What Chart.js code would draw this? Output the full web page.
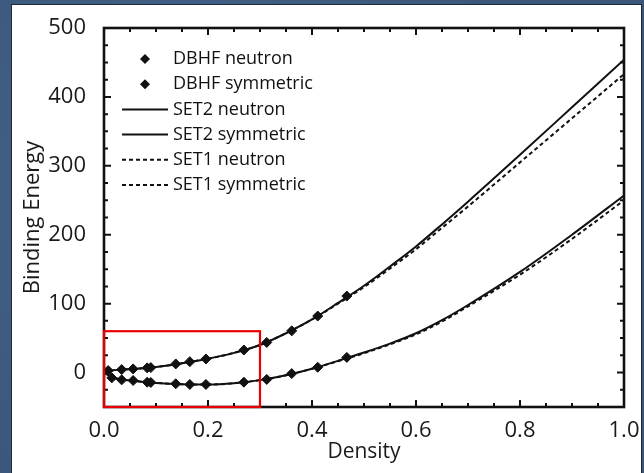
<!DOCTYPE html>
<html lang="en">
<head>
    <meta charset="UTF-8">
    <title>Binding Energy vs Density</title>
    <style>
        * { margin: 0; padding: 0; box-sizing: border-box; }
        body {
            width: 644px;
            height: 473px;
            overflow: hidden;
            background-color: #3d5b81;
            background-image: radial-gradient(circle at 30% 40%, #46658c 0%, #3a5679 70%);
            font-family: "Open Sans", sans-serif;
        }
        .panel {
            position: absolute;
            left: 11px;
            top: 4px;
            width: 631px;
            height: 480px;
            background: #fff;
            border: 1px solid #1c2a3c;
        }
        #chart {
            position: absolute;
            left: 0;
            top: 0;
        }
    </style>
</head>
<body>
    <div class="panel">
        <canvas id="chart" width="629" height="469"></canvas>
    </div>

    <script src="https://cdn.jsdelivr.net/npm/chart.js"></script>
    <script>
// curves
const densityGrid   = [0, 0.02, 0.05, 0.1, 0.15, 0.2, 0.25, 0.3, 0.35, 0.4, 0.45, 0.5, 0.55, 0.6, 0.65, 0.7, 0.8, 0.9, 1.0];
const set2Neutron   = [0, 3.5, 5, 8, 13.5, 20, 28.5, 40, 57, 77, 101, 126, 154, 183, 215, 248, 316, 385, 454];
const set1Neutron   = [0, 3.5, 5, 8, 13.5, 20, 28.5, 40, 57, 77, 100, 124, 151, 179, 210, 241, 305, 369, 433];
const set2Symmetric = [0, -8, -11.5, -15, -17, -17.5, -15.5, -11, -4, 5.5, 17, 29, 42, 57, 76, 98, 146, 200, 257];
const set1Symmetric = [0, -8, -11.5, -15, -17, -17.5, -15.5, -11, -4, 5.5, 16.5, 28, 41, 55.5, 74, 96, 142, 194, 250];

// DBHF points
const dbhfNeutronX   = [0.008, 0.034, 0.056, 0.083, 0.09, 0.138, 0.165, 0.196, 0.269, 0.313, 0.361, 0.411, 0.467];
const dbhfNeutronY   = [2.9, 4.3, 5.3, 6.8, 7.2, 12.5, 15.8, 19.7, 32.7, 43.7, 60.5, 82, 111];
const dbhfSymmetricX = [0.015, 0.034, 0.056, 0.083, 0.09, 0.138, 0.165, 0.196, 0.269, 0.313, 0.361, 0.411, 0.467];
const dbhfSymmetricY = [-7.7, -10.6, -11.5, -14, -14.4, -16.3, -17.3, -17.3, -14, -10, -1.5, 7.7, 22];

const xTicks = [0, 0.2, 0.4, 0.6, 0.8, 1.0];
const yTicks = [0, 100, 200, 300, 400, 500];
const highlightBox = { x0: 0, x1: 0.3, y0: -50, y1: 60 };

const legendItems = [
    { label: 'DBHF neutron', kind: 'marker' },
    { label: 'DBHF symmetric', kind: 'marker' },
    { label: 'SET2 neutron', kind: 'solid' },
    { label: 'SET2 symmetric', kind: 'solid' },
    { label: 'SET1 neutron', kind: 'dash' },
    { label: 'SET1 symmetric', kind: 'dash' }
];

function pairs(xs, ys) {
    return xs.map((x, i) => ({ x: x, y: ys[i] }));
}

function curve(ys, dashed) {
    return {
        data: pairs(densityGrid, ys),
        showLine: true,
        borderColor: '#111',
        borderWidth: 2,
        borderDash: dashed ? [4, 3] : [],
        pointRadius: 0,
        cubicInterpolationMode: 'monotone'
    };
}

function markers(xs, ys) {
    return {
        data: pairs(xs, ys),
        showLine: false,
        pointStyle: 'rectRot',
        pointRadius: 5,
        backgroundColor: '#111',
        borderColor: '#111',
        borderWidth: 1
    };
}

const frameTicks = {
    id: 'frameTicks',
    afterDatasetsDraw(chart) {
        const ctx = chart.ctx;
        const a = chart.chartArea;
        const xs = chart.scales.x, ys = chart.scales.y;
        ctx.save();
        ctx.strokeStyle = '#111';
        ctx.lineWidth = 2;
        // minor + major ticks, inward on all sides
        for (let i = 0; i <= 20; i++) {
            const v = i * 0.05;
            const px = xs.getPixelForValue(v);
            const len = (i % 4 === 0) ? 7 : 4;
            ctx.beginPath();
            ctx.moveTo(px, a.bottom); ctx.lineTo(px, a.bottom - len);
            ctx.moveTo(px, a.top); ctx.lineTo(px, a.top + len);
            ctx.stroke();
        }
        for (let i = 0; i <= 22; i++) {
            const v = -50 + i * 25;
            const py = ys.getPixelForValue(v);
            const len = (v % 100 === 0) ? 7 : 4;
            ctx.beginPath();
            ctx.moveTo(a.left, py); ctx.lineTo(a.left + len, py);
            ctx.moveTo(a.right, py); ctx.lineTo(a.right - len, py);
            ctx.stroke();
        }
        ctx.lineWidth = 2.6;
        ctx.strokeRect(a.left, a.top, a.right - a.left, a.bottom - a.top);

        // red highlight box
        const bx0 = xs.getPixelForValue(highlightBox.x0);
        const bx1 = xs.getPixelForValue(highlightBox.x1);
        const by0 = ys.getPixelForValue(highlightBox.y0);
        const by1 = ys.getPixelForValue(highlightBox.y1);
        ctx.strokeStyle = '#e80000';
        ctx.lineWidth = 2.2;
        ctx.strokeRect(bx0, by1, bx1 - bx0, by0 - by1);

        // legend
        ctx.fillStyle = '#111';
        ctx.strokeStyle = '#111';
        ctx.font = '18px "Open Sans"';
        ctx.textBaseline = 'middle';
        legendItems.forEach((item, i) => {
            const y = a.top + 31 + i * 25.2;
            if (item.kind === 'marker') {
                const cx = a.left + 41;
                ctx.beginPath();
                ctx.moveTo(cx, y - 5); ctx.lineTo(cx + 5, y);
                ctx.lineTo(cx, y + 5); ctx.lineTo(cx - 5, y);
                ctx.closePath();
                ctx.fill();
            } else {
                ctx.lineWidth = 2;
                ctx.setLineDash(item.kind === 'dash' ? [4, 3] : []);
                ctx.beginPath();
                ctx.moveTo(a.left + 18, y); ctx.lineTo(a.left + 64, y);
                ctx.stroke();
                ctx.setLineDash([]);
            }
            ctx.fillText(item.label, a.left + 69, y);
        });
        ctx.restore();
    }
};

new Chart(document.getElementById('chart'), {
    type: 'scatter',
    data: {
        datasets: [
            curve(set2Neutron, false),
            curve(set2Symmetric, false),
            curve(set1Neutron, true),
            curve(set1Symmetric, true),
            markers(dbhfNeutronX, dbhfNeutronY),
            markers(dbhfSymmetricX, dbhfSymmetricY)
        ]
    },
    options: {
        responsive: false,
        animation: false,
        layout: { padding: { top: 23, right: 17, left: 8, bottom: 9 } },
        plugins: {
            legend: { display: false },
            tooltip: { enabled: false }
        },
        scales: {
            x: {
                type: 'linear',
                min: 0,
                max: 1,
                grid: { display: false },
                border: { display: false },
                afterBuildTicks: s => { s.ticks = xTicks.map(v => ({ value: v })); },
                afterFit: s => { s.height = 58; s.paddingLeft = 0; s.paddingRight = 0; },
                ticks: {
                    padding: 3,
                    maxRotation: 0,
                    color: '#1a1a1a',
                    font: { family: 'Open Sans', size: 22 },
                    callback: v => v.toFixed(1)
                },
                title: {
                    display: true,
                    text: 'Density',
                    color: '#1a1a1a',
                    font: { family: 'Open Sans', size: 21 },
                    padding: { top: 0, bottom: 0 }
                }
            },
            y: {
                type: 'linear',
                min: -50,
                max: 500,
                grid: { display: false },
                border: { display: false },
                afterBuildTicks: s => { s.ticks = yTicks.map(v => ({ value: v })); },
                afterFit: s => { s.width = 84; s.paddingTop = 0; s.paddingBottom = 0; },
                ticks: {
                    padding: 10,
                    color: '#1a1a1a',
                    font: { family: 'Open Sans', size: 22 },
                    callback: v => String(v)
                },
                title: {
                    display: true,
                    text: 'Binding Energy',
                    color: '#1a1a1a',
                    font: { family: 'Open Sans', size: 22 },
                    padding: { top: 0, bottom: 0 }
                }
            }
        }
    },
    plugins: [frameTicks]
});
    </script>
</body>
</html>
